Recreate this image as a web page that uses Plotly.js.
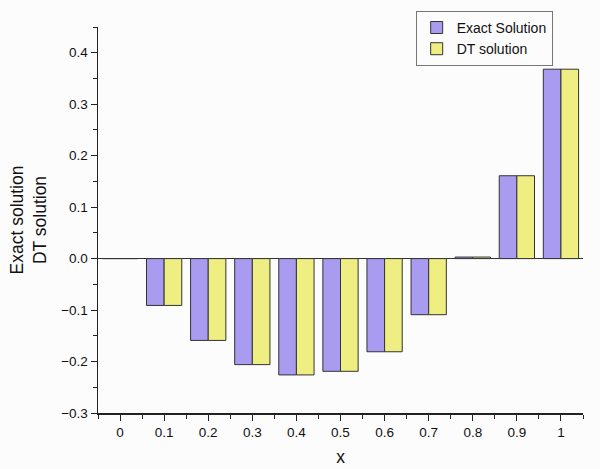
<!DOCTYPE html>
<html><head><meta charset="utf-8">
<script src="https://cdn.plot.ly/plotly-3.0.1.min.js"></script>
<style>body{margin:0;background:#fcfcfc}#c{width:600px;height:469px}</style>
</head><body><div id="c"></div>
<script>
var xValues = [0, 0.1, 0.2, 0.3, 0.4, 0.5, 0.6, 0.7, 0.8, 0.9, 1];
var exactSolution = [0, -0.091, -0.159, -0.206, -0.226, -0.219, -0.181, -0.109, 0.003, 0.161, 0.368];
var dtSolution = [0, -0.091, -0.159, -0.206, -0.226, -0.219, -0.181, -0.109, 0.003, 0.161, 0.368];
var seriesNames = ["Exact Solution", "DT solution"];
var tickLabels = ["0", "0.1", "0.2", "0.3", "0.4", "0.5", "0.6", "0.7", "0.8", "0.9", "1"];

var font = "Arial, 'Liberation Sans', sans-serif";
var traces = [
  {type: "bar", x: xValues, y: exactSolution, name: seriesNames[0],
   marker: {color: "#a99cf0", line: {color: "#333333", width: 1}}},
  {type: "bar", x: xValues, y: dtSolution, name: seriesNames[1],
   marker: {color: "#eeee82", line: {color: "#333333", width: 1}}}
];
var layout = {
  width: 600, height: 469,
  paper_bgcolor: "#fcfcfc", plot_bgcolor: "#fcfcfc",
  margin: {l: 98, r: 17, t: 26, b: 56},
  barmode: "group", bargap: 0.2, bargroupgap: 0,
  font: {family: font, size: 13, color: "#111"},
  showlegend: true,
  legend: {x: 0.655, y: 1.039, xanchor: "left", yanchor: "top", xref: "paper", yref: "paper",
           bordercolor: "#777", borderwidth: 1, bgcolor: "#fcfcfc",
           font: {family: font, size: 14}, tracegroupgap: 0, traceorder: "normal"},
  xaxis: {
    range: [-0.05, 1.05], tickmode: "array", tickvals: xValues, ticktext: tickLabels,
    ticks: "outside", ticklen: 6, tickcolor: "#222", tickwidth: 1,
    minor: {tickmode: "array", tickvals: [-0.05,0.05,0.15,0.25,0.35,0.45,0.55,0.65,0.75,0.85,0.95,1.05], ticks: "outside", ticklen: 4, tickcolor: "#222"},
    showline: true, linecolor: "#222", linewidth: 1.5, showgrid: false, zeroline: false,
    tickfont: {family: font, size: 13.5},
    title: {text: "x", font: {family: font, size: 17.5}, standoff: 12}
  },
  yaxis: {
    range: [-0.3, 0.45], dtick: 0.1, tick0: 0, tickformat: ".1f",
    ticks: "outside", ticklen: 6, tickcolor: "#222", tickwidth: 1,
    minor: {dtick: 0.05, ticks: "outside", ticklen: 4, tickcolor: "#222"},
    showline: true, linecolor: "#222", linewidth: 1.5, showgrid: false,
    zeroline: true, zerolinecolor: "#333", zerolinewidth: 1.5,
    tickfont: {family: font, size: 13.5},
    title: {text: "Exact solution<br>DT solution", font: {family: font, size: 17.5}, standoff: 10}
  }
};
Plotly.newPlot("c", traces, layout, {displayModeBar: false, staticPlot: true});
</script></body></html>
